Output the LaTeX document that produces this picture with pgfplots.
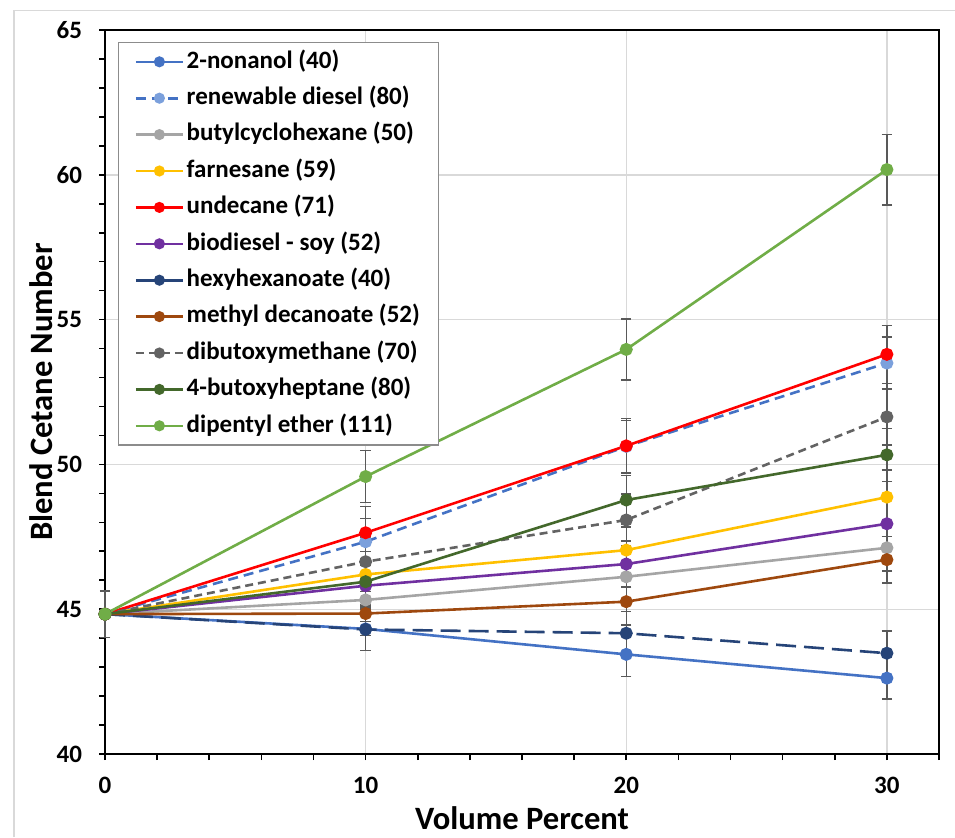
\documentclass[border=0pt]{standalone}
\usepackage{fontspec}
\setmainfont{Carlito}
\usepackage{pgfplots}
\pgfplotsset{compat=1.18}
\definecolor{cNon}{HTML}{4472C4}
\definecolor{cRen}{HTML}{4472C4}
\definecolor{cRenM}{HTML}{7BA0DC}
\definecolor{cBut}{HTML}{A5A5A5}
\definecolor{cFar}{HTML}{FFC000}
\definecolor{cUnd}{HTML}{FF0000}
\definecolor{cBio}{HTML}{7030A0}
\definecolor{cHex}{HTML}{264478}
\definecolor{cMet}{HTML}{9E480E}
\definecolor{cDib}{HTML}{636363}
\definecolor{cBox}{HTML}{43682B}
\definecolor{cDip}{HTML}{70AD47}
\definecolor{cGrid}{HTML}{D9D9D9}
\definecolor{cErr}{HTML}{595959}
\pgfplotsset{
  ser/.style={color=#1, line width=1.3pt, mark=*, mark size=2.6pt, mark options={solid, fill=#1, draw=#1},
    /pgfplots/error bars/y dir=both, /pgfplots/error bars/y explicit,
    /pgfplots/error bars/error bar style={solid, line width=0.7pt, color=cErr},
    /pgfplots/error bars/error mark options={solid, rotate=90, mark size=2.6pt, line width=0.7pt, color=cErr}},
}
\begin{document}
\begin{tikzpicture}
\begin{axis}[
  width=417pt, height=362pt, scale only axis,
  xmin=0, xmax=32, ymin=40, ymax=65,
  xtick={0,10,20,30}, ytick={40,45,...,65},
  minor xtick={2,4,...,32}, minor ytick={40,41,...,65},
  tick pos=left, tick align=outside,
  major tick length=3pt, minor tick length=3pt,
  grid=major, major grid style={color=cGrid, line width=0.7pt},
  axis line style={line width=1pt, black},
  tick style={line width=0.8pt, black},
  minor tick style={line width=0.8pt, black},
  /pgf/number format/assume math mode=true,
  ticklabel style={font=\bfseries\fontsize{12.5}{14}\selectfont},
  yticklabel style={xshift=-5pt},
  xticklabel style={yshift=-5pt},
  xlabel={Volume Percent}, ylabel={Blend Cetane Number},
  label style={font=\bfseries\fontsize{16.3}{18}\selectfont},
  xlabel style={at={(axis description cs:0.5,-0.0635)}, anchor=north},
  ylabel style={at={(axis description cs:-0.054,0.5)}, anchor=south},
  clip=false,
  legend cell align=left,
  legend style={at={(axis description cs:0,1)}, anchor=north west, xshift=6.5pt, yshift=-6pt,
    draw=black!45, line width=0.6pt, fill=white,
    font=\bfseries\fontsize{12.5}{14}\selectfont,
    inner xsep=8pt, inner ysep=0.5pt, column sep=0pt, row sep=0pt,
    nodes={inner xsep=1.25pt, inner ysep=0pt, text height=12.2pt, text depth=6pt}},
  legend image code/.code={\draw[mark repeat=2, mark phase=2, mark size=2.1pt, #1] plot coordinates {(0pt,0pt) (11.75pt,0pt) (23.5pt,0pt)};},
]
\addplot[ser=cNon] coordinates {(0,44.83) +- (0,0.8) (10,44.32) +- (0,0.75) (20,43.44) +- (0,0.77) (30,42.62) +- (0,0.72)};
\addlegendentry{2-nonanol (40)}
\addplot[ser=cRen, dash pattern=on 5pt off 3pt, mark options={solid, fill=cRenM, draw=cRenM}] coordinates {(0,44.83) (10,47.33) +- (0,0.8) (20,50.62) +- (0,0.9) (30,53.5) +- (0,0.9)};
\addlegendentry{renewable diesel (80)}
\addplot[ser=cBut] coordinates {(0,44.83) (10,45.32) +- (0,0.75) (20,46.12) +- (0,0.8) (30,47.12) +- (0,0.8)};
\addlegendentry{butylcyclohexane (50)}
\addplot[ser=cFar] coordinates {(0,44.83) (10,46.20) +- (0,0.8) (20,47.04) +- (0,0.8) (30,48.87) +- (0,0.93)};
\addlegendentry{farnesane (59)}
\addplot[ser=cUnd] coordinates {(0,44.83) (10,47.64) +- (0,0.9) (20,50.64) +- (0,0.95) (30,53.8) +- (0,1.0)};
\addlegendentry{undecane (71)}
\addplot[ser=cBio] coordinates {(0,44.83) (10,45.81) +- (0,0.8) (20,46.56) +- (0,0.8) (30,47.95) +- (0,0.8)};
\addlegendentry{biodiesel - soy (52)}
\addplot[ser=cHex, dash pattern=on 10pt off 4pt, forget plot] coordinates {(0,44.83) (10,44.30) +- (0,0.72) (20,44.17) +- (0,0.75) (30,43.48) +- (0,0.77)};
\addlegendimage{color=cHex, line width=1.3pt, mark=*, mark options={solid, fill=cHex, draw=cHex}}
\addlegendentry{hexyhexanoate (40)}
\addplot[ser=cMet] coordinates {(0,44.83) (10,44.85) +- (0,0.76) (20,45.26) +- (0,0.8) (30,46.71) +- (0,0.8)};
\addlegendentry{methyl decanoate (52)}
\addplot[ser=cDib, dash pattern=on 4pt off 2.5pt] coordinates {(0,44.83) (10,46.64) +- (0,0.85) (20,48.08) +- (0,0.9) (30,51.64) +- (0,0.97)};
\addlegendentry{dibutoxymethane (70)}
\addplot[ser=cBox] coordinates {(0,44.83) (10,45.95) +- (0,0.8) (20,48.77) +- (0,0.85) (30,50.33) +- (0,0.92)};
\addlegendentry{4-butoxyheptane (80)}
\addplot[ser=cDip] coordinates {(0,44.83) (10,49.58) +- (0,0.9) (20,53.97) +- (0,1.05) (30,60.18) +- (0,1.22)};
\addlegendentry{dipentyl ether (111)}
\draw[black, line width=1pt] (axis cs:0,65) -- (axis cs:32,65) -- (axis cs:32,40);
\draw[cGrid, line width=0.8pt] (axis cs:-3.492,37.134) -- (axis cs:-3.492,65.673) -- (axis cs:32.614,65.673);
\coordinate (bbA) at (axis cs:-4.029,37.134);
\coordinate (bbB) at (axis cs:32.614,66.036);
\end{axis}
\pgfresetboundingbox
\useasboundingbox (bbA) rectangle (bbB);
\end{tikzpicture}
\end{document}
